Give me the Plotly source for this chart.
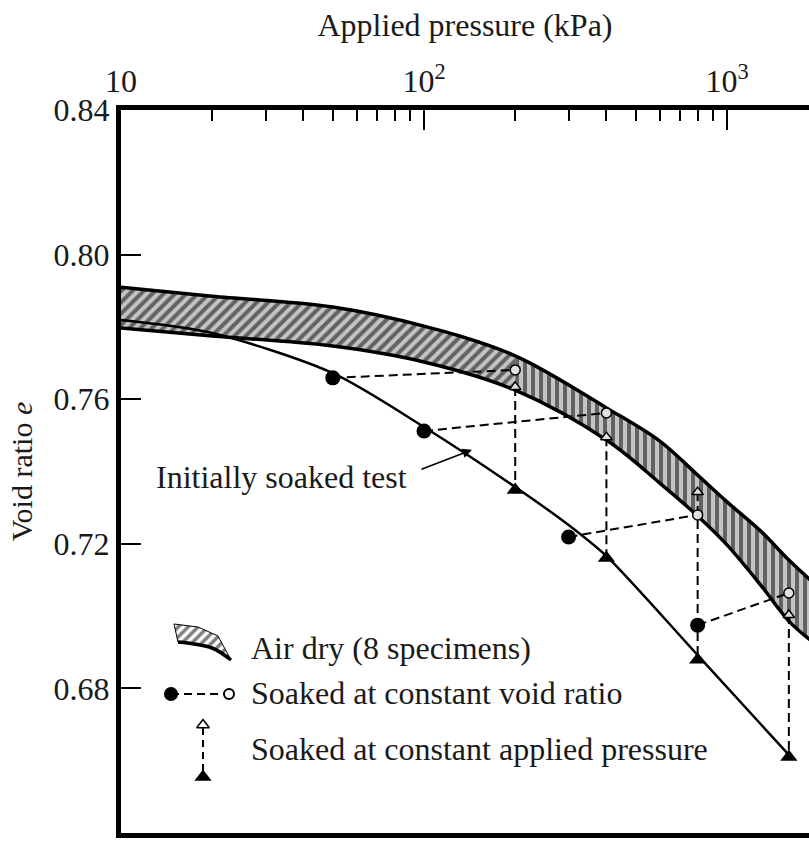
import math
import plotly.graph_objects as go

# ---------------- data ----------------
# Air-dry band (8 specimens): upper and lower boundaries
band_p = [10, 20, 50, 100, 200, 400, 600, 800, 1000, 1300, 1600, 1900]
band_upper = [0.7910, 0.7885, 0.7855, 0.7802, 0.7720, 0.7576, 0.7484, 0.7390, 0.7316, 0.7233, 0.7155, 0.7097]
band_lower = [0.7797, 0.7775, 0.7747, 0.7703, 0.7625, 0.7487, 0.7368, 0.7277, 0.7197, 0.7083, 0.6986, 0.6931]

# Initially soaked test
soaked_p = [10, 20, 50, 100, 200, 300, 400, 800, 1600]
soaked_e = [0.7819, 0.7783, 0.7672, 0.7523, 0.7357, 0.7252, 0.7166, 0.6892, 0.6616]

# Soaked at constant void ratio (filled circle -> open circle)
cv_start_p = [50, 100, 300, 800]
cv_start_e = [0.7659, 0.7512, 0.7219, 0.6975]
cv_end_p = [200, 400, 800, 1600]
cv_end_e = [0.7681, 0.7562, 0.7280, 0.7064]

# Soaked at constant applied pressure (open triangle -> filled triangle)
cp_p = [200, 400, 800, 1600]
cp_top_e = [0.7634, 0.7495, 0.7343, 0.7003]
cp_bottom_e = [0.7349, 0.7161, 0.6879, 0.6610]

# Axis ticks
x_tick_vals = [10, 100, 1000]
x_tick_text = ["10", "10<sup>2</sup>", "10<sup>3</sup>"]
x_minor_vals = [20, 30, 40, 50, 60, 70, 80, 90, 200, 300, 400, 500, 600, 700, 800, 900]
y_tick_vals = [0.64, 0.68, 0.72, 0.76, 0.80, 0.84]

# Annotation target on the soaked curve
note_p, note_e = 144, 0.746

# ---------------- styling ----------------
FONT = "Liberation Serif"
FS = 32
INK = "#1a1a1a"
W, H = 809, 846
L, R, T, B = 121, 0, 110, 13
HATCH_BG = "#c4c4c4"

fig = go.Figure()

# hatched band, split so the hatch turns from diagonal to near-vertical
k = band_p.index(200)
segments = [(slice(0, k + 1), "/"), (slice(k, len(band_p)), "|")]
for sl, shape in segments:
    fig.add_trace(go.Scatter(x=band_p[sl], y=band_lower[sl], mode="lines",
                             line=dict(color="black", width=1, shape="spline", smoothing=1.0),
                             hoverinfo="skip", showlegend=False))
    fig.add_trace(go.Scatter(x=band_p[sl], y=band_upper[sl], mode="lines",
                             line=dict(color="black", width=1, shape="spline", smoothing=1.0),
                             fill="tonexty", fillcolor=HATCH_BG,
                             fillpattern=dict(shape=shape, fgcolor="black", bgcolor=HATCH_BG,
                                              size=8, solidity=0.5),
                             hoverinfo="skip", showlegend=False))
# band edges drawn once over the whole length
fig.add_trace(go.Scatter(x=band_p, y=band_upper, mode="lines",
                         line=dict(color="black", width=3.5, shape="spline", smoothing=1.0),
                         showlegend=False))
fig.add_trace(go.Scatter(x=band_p, y=band_lower, mode="lines",
                         line=dict(color="black", width=3.5, shape="spline", smoothing=1.0),
                         showlegend=False))

# dashed connectors: constant void ratio
cx, cy = [], []
for p0, e0, p1, e1 in zip(cv_start_p, cv_start_e, cv_end_p, cv_end_e):
    cx += [p0, p1, None]
    cy += [e0, e1, None]
fig.add_trace(go.Scatter(x=cx, y=cy, mode="lines",
                         line=dict(color="black", width=2, dash="9px,5px"), showlegend=False))
# dashed connectors: constant applied pressure
vx, vy = [], []
for p, e0, e1 in zip(cp_p, cp_top_e, cp_bottom_e):
    vx += [p, p, None]
    vy += [e0, e1, None]
fig.add_trace(go.Scatter(x=vx, y=vy, mode="lines",
                         line=dict(color="black", width=2, dash="9px,5px"), showlegend=False))

# initially soaked test curve
fig.add_trace(go.Scatter(x=soaked_p, y=soaked_e, mode="lines",
                         line=dict(color="black", width=2.5, shape="spline", smoothing=0.8),
                         showlegend=False))

# markers
fig.add_trace(go.Scatter(x=cv_start_p, y=cv_start_e, mode="markers",
                         marker=dict(symbol="circle", size=15, color="black"), showlegend=False))
fig.add_trace(go.Scatter(x=cv_end_p, y=cv_end_e, mode="markers",
                         marker=dict(symbol="circle", size=10, color="#e0e0e0",
                                     line=dict(color="black", width=1.5)), showlegend=False))
fig.add_trace(go.Scatter(x=cp_p, y=cp_top_e, mode="markers",
                         marker=dict(symbol="triangle-up", size=10, color="#e0e0e0",
                                     line=dict(color="black", width=1.5)), showlegend=False))
fig.add_trace(go.Scatter(x=cp_p, y=cp_bottom_e, mode="markers",
                         marker=dict(symbol="triangle-up", size=15, color="black"), showlegend=False))

# ---------------- legend glyphs (overlay pixel axes) ----------------
leg_hatch_x = [174, 198, 218, 231, 212, 178, 174]
leg_hatch_y = [624, 627, 636, 660, 648, 642, 624]
fig.add_trace(go.Scatter(x=leg_hatch_x, y=leg_hatch_y, xaxis="x2", yaxis="y2", mode="lines",
                         fill="toself", fillcolor="white",
                         fillpattern=dict(shape="/", fgcolor="black", bgcolor="white", size=7, solidity=0.5),
                         line=dict(color="black", width=1), showlegend=False))
fig.add_trace(go.Scatter(x=[178, 212, 231], y=[642, 648, 660], xaxis="x2", yaxis="y2", mode="lines",
                         line=dict(color="black", width=3.5, shape="spline"), showlegend=False))
fig.add_trace(go.Scatter(x=[171, 229], y=[694, 694], xaxis="x2", yaxis="y2", mode="lines",
                         line=dict(color="black", width=2, dash="8px,5px"), showlegend=False))
fig.add_trace(go.Scatter(x=[171], y=[694], xaxis="x2", yaxis="y2", mode="markers",
                         marker=dict(symbol="circle", size=14, color="black"), showlegend=False))
fig.add_trace(go.Scatter(x=[229], y=[694], xaxis="x2", yaxis="y2", mode="markers",
                         marker=dict(symbol="circle", size=10, color="white",
                                     line=dict(color="black", width=2)), showlegend=False))
fig.add_trace(go.Scatter(x=[203, 203], y=[728, 775], xaxis="x2", yaxis="y2", mode="lines",
                         line=dict(color="black", width=2, dash="7px,5px"), showlegend=False))
fig.add_trace(go.Scatter(x=[203], y=[725], xaxis="x2", yaxis="y2", mode="markers",
                         marker=dict(symbol="triangle-up", size=11, color="white",
                                     line=dict(color="black", width=1.5)), showlegend=False))
fig.add_trace(go.Scatter(x=[203], y=[777], xaxis="x2", yaxis="y2", mode="markers",
                         marker=dict(symbol="triangle-up", size=15, color="black"), showlegend=False))

legend_texts = [("Air dry (8 specimens)", 648),
                ("Soaked at constant void ratio", 693),
                ("Soaked at constant applied pressure", 749)]
annotations = []
for txt, yy in legend_texts:
    annotations.append(dict(x=249, y=yy, xref="x2", yref="y2", text=txt, showarrow=False,
                            xanchor="left", yanchor="middle",
                            font=dict(family=FONT, size=FS, color=INK)))

# "Initially soaked test" label + arrow
annotations.append(dict(x=409, y=477, xref="x2", yref="y2", text="Initially soaked test",
                        showarrow=False, xanchor="right", yanchor="middle",
                        font=dict(family=FONT, size=FS, color=INK)))
annotations.append(dict(x=math.log10(note_p), y=note_e, xref="x", yref="y", text="",
                        showarrow=True, ax=-52, ay=20, arrowhead=2, arrowsize=1.2,
                        arrowwidth=1.6, arrowcolor="black"))

fig.update_layout(
    width=W, height=H,
    margin=dict(l=L, r=R, t=T, b=B, pad=0),
    paper_bgcolor="white", plot_bgcolor="white",
    showlegend=False,
    font=dict(family=FONT, size=FS, color=INK),
    annotations=annotations,
    xaxis=dict(type="log", range=[1, 1 + (W - L - R) / 303.0], side="top",
               showline=True, linewidth=5, linecolor="black", mirror=True,
               showgrid=False, zeroline=False,
               tickmode="array", tickvals=x_tick_vals, ticktext=x_tick_text,
               ticks="inside", ticklen=20, tickwidth=2, tickcolor="black",
               tickfont=dict(family=FONT, size=FS, color=INK),
               minor=dict(tickmode="array", tickvals=x_minor_vals, ticks="inside",
                          ticklen=11, tickwidth=2, tickcolor="black", showgrid=False),
               title=dict(text="Applied pressure (kPa)", standoff=14,
                          font=dict(family=FONT, size=FS, color=INK))),
    yaxis=dict(range=[0.64, 0.84], showline=True, linewidth=5, linecolor="black",
               mirror=False, showgrid=False, zeroline=False,
               tickmode="array", tickvals=y_tick_vals,
               ticktext=["%.2f" % v for v in y_tick_vals],
               ticks="inside", ticklen=20, tickwidth=2, tickcolor="black",
               tickfont=dict(family=FONT, size=FS, color=INK),
               title=dict(text="Void ratio <i>e</i>", standoff=14,
                          font=dict(family=FONT, size=30, color=INK))),
    xaxis2=dict(overlaying="x", range=[L, W - R], visible=False, anchor="y2"),
    yaxis2=dict(overlaying="y", range=[H - B, T], visible=False, anchor="x2"),
)

fig.write_html("out.html", config={"displayModeBar": False},
               post_script="document.body.style.margin='0';")
